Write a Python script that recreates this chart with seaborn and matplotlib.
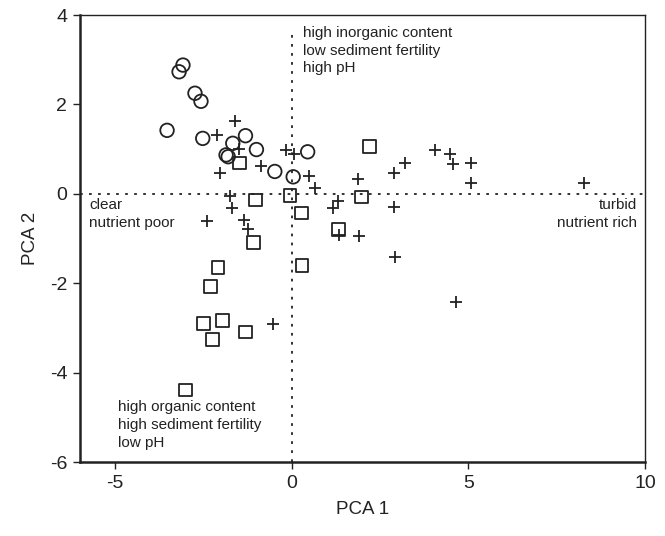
import matplotlib
matplotlib.use('Agg')
import matplotlib.pyplot as plt
import pandas as pd
import seaborn as sns

# PCA scores, one group per marker shape
circle_x = [-3.08, -3.19, -2.74, -2.57, -3.53, -2.52, -1.31, -1.67, -1.00, -1.86, -1.80, -0.48, 0.04, 0.45]
circle_y = [2.88, 2.73, 2.25, 2.07, 1.42, 1.24, 1.30, 1.13, 0.99, 0.87, 0.83, 0.50, 0.38, 0.94]

square_x = [-1.49, -1.03, -0.05, 0.28, -1.08, -2.09, -2.29, -2.50, -1.95, -1.31, -2.24, 0.29, 1.32, 2.21, 1.97, -3.01]
square_y = [0.69, -0.14, -0.03, -0.43, -1.09, -1.64, -2.08, -2.91, -2.84, -3.09, -3.25, -1.60, -0.79, 1.06, -0.07, -4.39]

plus_x = [-1.60, -2.12, -1.48, -0.87, -2.03, -0.17, 0.07, 0.49, 0.66, -1.74, -1.69, -2.41, -1.34, -1.24,
          -0.53, 1.31, 1.16, 1.88, 2.89, 3.21, 4.05, 4.48, 4.57, 5.08, 5.08, 2.89, 1.90, 1.35, 2.92, 8.28, 4.66]
plus_y = [1.62, 1.32, 1.00, 0.63, 0.46, 0.98, 0.88, 0.40, 0.14, -0.04, -0.31, -0.61, -0.59, -0.79,
          -2.91, -0.17, -0.32, 0.33, 0.46, 0.70, 0.97, 0.89, 0.67, 0.70, 0.24, -0.29, -0.94, -0.92, -1.41, 0.24, -2.43]

x_ticks = [-5, 0, 5, 10]
y_ticks = [-6, -4, -2, 0, 2, 4]

df_c = pd.DataFrame({'PCA 1': circle_x, 'PCA 2': circle_y})
df_s = pd.DataFrame({'PCA 1': square_x, 'PCA 2': square_y})
df_p = pd.DataFrame({'PCA 1': plus_x, 'PCA 2': plus_y})

sns.set_style('white')
plt.rcParams['font.family'] = ['Liberation Sans', 'DejaVu Sans']
plt.rcParams['axes.unicode_minus'] = False
ink = '#222222'

fig = plt.figure(figsize=(6.65, 5.36), dpi=100)
ax = fig.add_axes([0.12, 0.138, 0.85, 0.834])

# reference lines through the origin
dots = (0, (1.5, 3.5))
ax.axhline(0, color=ink, lw=1.3, ls=dots, zorder=1)
ax.plot([0, 0], [-6, 3.65], color=ink, lw=1.3, ls=dots, zorder=1)

sns.scatterplot(data=df_c, x='PCA 1', y='PCA 2', ax=ax, marker='o', s=95,
                facecolor='none', edgecolor=ink, linewidth=1.3, zorder=3)
sns.scatterplot(data=df_s, x='PCA 1', y='PCA 2', ax=ax, marker='s', s=85,
                facecolor='none', edgecolor=ink, linewidth=1.3, zorder=3)
sns.scatterplot(data=df_p, x='PCA 1', y='PCA 2', ax=ax, marker='+', s=75,
                color=ink, linewidth=1.3, zorder=3)

ax.set_xlim(-6, 10)
ax.set_ylim(-6, 4)
ax.set_xticks(x_ticks)
ax.set_yticks(y_ticks)
ax.tick_params(direction='out', length=5, width=1, colors=ink, labelsize=14,
               bottom=True, left=True, pad=4)
ax.set_xlabel('PCA 1', fontsize=13.5, color=ink, labelpad=7)
ax.set_ylabel('PCA 2', fontsize=13.5, color=ink, labelpad=8)
for side in ['left', 'bottom']:
    ax.spines[side].set_linewidth(1.8)
for side in ['top', 'right']:
    ax.spines[side].set_linewidth(1.0)
for sp in ax.spines.values():
    sp.set_color(ink)

note = dict(fontsize=11, color=ink, linespacing=1.35, va='top')
ax.text(0.31, 3.76, 'high inorganic content\nlow sediment fertility\nhigh pH', ha='left', **note)
ax.text(-5.74, -0.10, 'clear\nnutrient poor', ha='left', **note)
ax.text(9.77, -0.10, 'turbid\nnutrient rich', ha='right', **note)
ax.text(-4.92, -4.62, 'high organic content\nhigh sediment fertility\nlow pH', ha='left', **note)

fig.savefig('out.png', dpi=100)
